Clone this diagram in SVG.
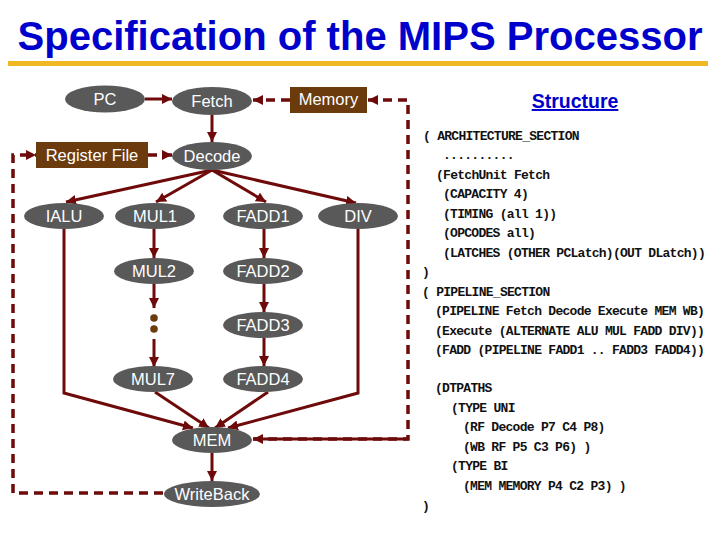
<svg xmlns="http://www.w3.org/2000/svg" width="720" height="540" viewBox="0 0 720 540">
<style>
.n ellipse{fill:#595959}
.n rect{fill:#6b3b0e}
.n text{fill:#ffffff;font-family:"Liberation Sans",Arial,sans-serif;font-size:16.5px;text-anchor:middle}
.c path{fill:none;stroke:#6e0a0a;stroke-width:3}
.c .d{stroke-dasharray:9 6;stroke-width:3.5}
.code{font-family:"Liberation Mono","Courier New",monospace;font-weight:bold;font-size:13px;letter-spacing:-0.72px;fill:#111}
</style>
<defs>
<marker id="a" markerUnits="userSpaceOnUse" markerWidth="12" markerHeight="12" refX="10" refY="5" orient="auto">
<path d="M0,0 L10,5 L0,10 Z" fill="#6e0a0a"/>
</marker>
</defs>
<rect width="720" height="540" fill="#ffffff"/>
<text x="360" y="50" font-family="'Liberation Sans',Arial,sans-serif" font-weight="bold" font-size="40" fill="#0000cc" text-anchor="middle" textLength="685" lengthAdjust="spacingAndGlyphs">Specification of the MIPS Processor</text>
<rect x="8" y="61" width="700" height="5" fill="#f0b822"/>

<g class="c">
<path d="M145,99 L172,99" marker-end="url(#a)"/>
<path class="d" d="M290,100 L253,100" marker-end="url(#a)"/>
<path class="d" d="M253,439 L408,439 L408,100 L368,100" marker-end="url(#a)"/>
<path d="M408,439 L253,439" stroke="none" marker-end="url(#a)"/>
<path d="M212,115 L212,142" marker-end="url(#a)"/>
<path class="d" d="M148,155 L172,155" marker-end="url(#a)"/>
<path class="d" d="M163,493 L13,493 L13,155 L36,155" marker-end="url(#a)"/>
<path d="M212,170 L66,202" marker-end="url(#a)"/>
<path d="M212,170 L156,202" marker-end="url(#a)"/>
<path d="M212,170 L266,202" marker-end="url(#a)"/>
<path d="M212,170 L356,203" marker-end="url(#a)"/>
<path d="M154,229 L154,258" marker-end="url(#a)"/>
<path d="M154,284 L154,308" marker-end="url(#a)"/>
<path d="M154,339 L154,367" marker-end="url(#a)"/>
<path d="M264,229 L264,258" marker-end="url(#a)"/>
<path d="M264,284 L264,312" marker-end="url(#a)"/>
<path d="M264,338 L264,366" marker-end="url(#a)"/>
<path d="M64,229 L64,393 L193,428" marker-end="url(#a)"/>
<path d="M155,392 L209,428" marker-end="url(#a)"/>
<path d="M268,392 L215,428" marker-end="url(#a)"/>
<path d="M358,229 L358,393 L228,428" marker-end="url(#a)"/>
<path d="M212,453 L212,481" marker-end="url(#a)"/>
</g>

<g id="pc" class="n"><ellipse cx="105" cy="99" rx="40" ry="13.5"/><text x="105" y="105">PC</text></g>
<g id="fetch" class="n"><ellipse cx="212" cy="101" rx="40" ry="14"/><text x="212" y="107">Fetch</text></g>
<g id="memory" class="n"><rect x="290" y="87" width="77" height="26"/><text x="328.5" y="105">Memory</text></g>
<g id="regfile" class="n"><rect x="36" y="142" width="112" height="26"/><text x="92" y="161">Register File</text></g>
<g id="decode" class="n"><ellipse cx="212" cy="156" rx="40" ry="14"/><text x="212" y="162">Decode</text></g>
<g id="ialu" class="n"><ellipse cx="64" cy="216" rx="40" ry="13"/><text x="64" y="222">IALU</text></g>
<g id="mul1" class="n"><ellipse cx="155" cy="216" rx="40" ry="13"/><text x="155" y="222">MUL1</text></g>
<g id="fadd1" class="n"><ellipse cx="263" cy="216" rx="40" ry="13"/><text x="263" y="222">FADD1</text></g>
<g id="div" class="n"><ellipse cx="358" cy="216" rx="40" ry="13"/><text x="358" y="222">DIV</text></g>
<g id="mul2" class="n"><ellipse cx="154" cy="271" rx="40" ry="13"/><text x="154" y="277">MUL2</text></g>
<g id="fadd2" class="n"><ellipse cx="263" cy="271" rx="40" ry="13"/><text x="263" y="277">FADD2</text></g>
<g id="dots"><circle cx="154" cy="318" r="3.8" fill="#6b3b0e"/><circle cx="154" cy="329" r="3.8" fill="#6b3b0e"/></g>
<g id="fadd3" class="n"><ellipse cx="263" cy="325" rx="40" ry="13"/><text x="263" y="331">FADD3</text></g>
<g id="mul7" class="n"><ellipse cx="153" cy="379" rx="40" ry="13"/><text x="153" y="385">MUL7</text></g>
<g id="fadd4" class="n"><ellipse cx="263" cy="379" rx="40" ry="13"/><text x="263" y="385">FADD4</text></g>
<g id="mem" class="n"><ellipse cx="212" cy="440" rx="40" ry="13"/><text x="212" y="446">MEM</text></g>
<g id="writeback" class="n"><ellipse cx="212" cy="494" rx="48" ry="13"/><text x="212" y="500">WriteBack</text></g>

<g id="structure">
<text x="575" y="108" font-family="'Liberation Sans',Arial,sans-serif" font-weight="bold" font-size="19.5" fill="#0000cc" text-anchor="middle" text-decoration="underline">Structure</text>
<text class="code" x="423" y="140" xml:space="preserve">( ARCHITECTURE_SECTION</text>
<text class="code" x="443" y="159">..........</text>
<text class="code" x="436" y="179">(FetchUnit Fetch</text>
<text class="code" x="443" y="198">(CAPACITY 4)</text>
<text class="code" x="443" y="218">(TIMING (all 1))</text>
<text class="code" x="443" y="237">(OPCODES all)</text>
<text class="code" x="443" y="257">(LATCHES (OTHER PCLatch)(OUT DLatch))</text>
<text class="code" x="422" y="276">)</text>
<text class="code" x="422" y="296" xml:space="preserve">( PIPELINE_SECTION</text>
<text class="code" x="435" y="315">(PIPELINE Fetch Decode Execute MEM WB)</text>
<text class="code" x="435" y="335">(Execute (ALTERNATE ALU MUL FADD DIV))</text>
<text class="code" x="435" y="354">(FADD (PIPELINE FADD1 .. FADD3 FADD4))</text>
<text class="code" x="435" y="392">(DTPATHS</text>
<text class="code" x="451" y="412">(TYPE UNI</text>
<text class="code" x="463" y="431">(RF Decode P7 C4 P8)</text>
<text class="code" x="463" y="451">(WB RF P5 C3 P6) )</text>
<text class="code" x="451" y="470">(TYPE BI</text>
<text class="code" x="463" y="490">(MEM MEMORY P4 C2 P3) )</text>
<text class="code" x="422" y="510">)</text>
</g>
</svg>
